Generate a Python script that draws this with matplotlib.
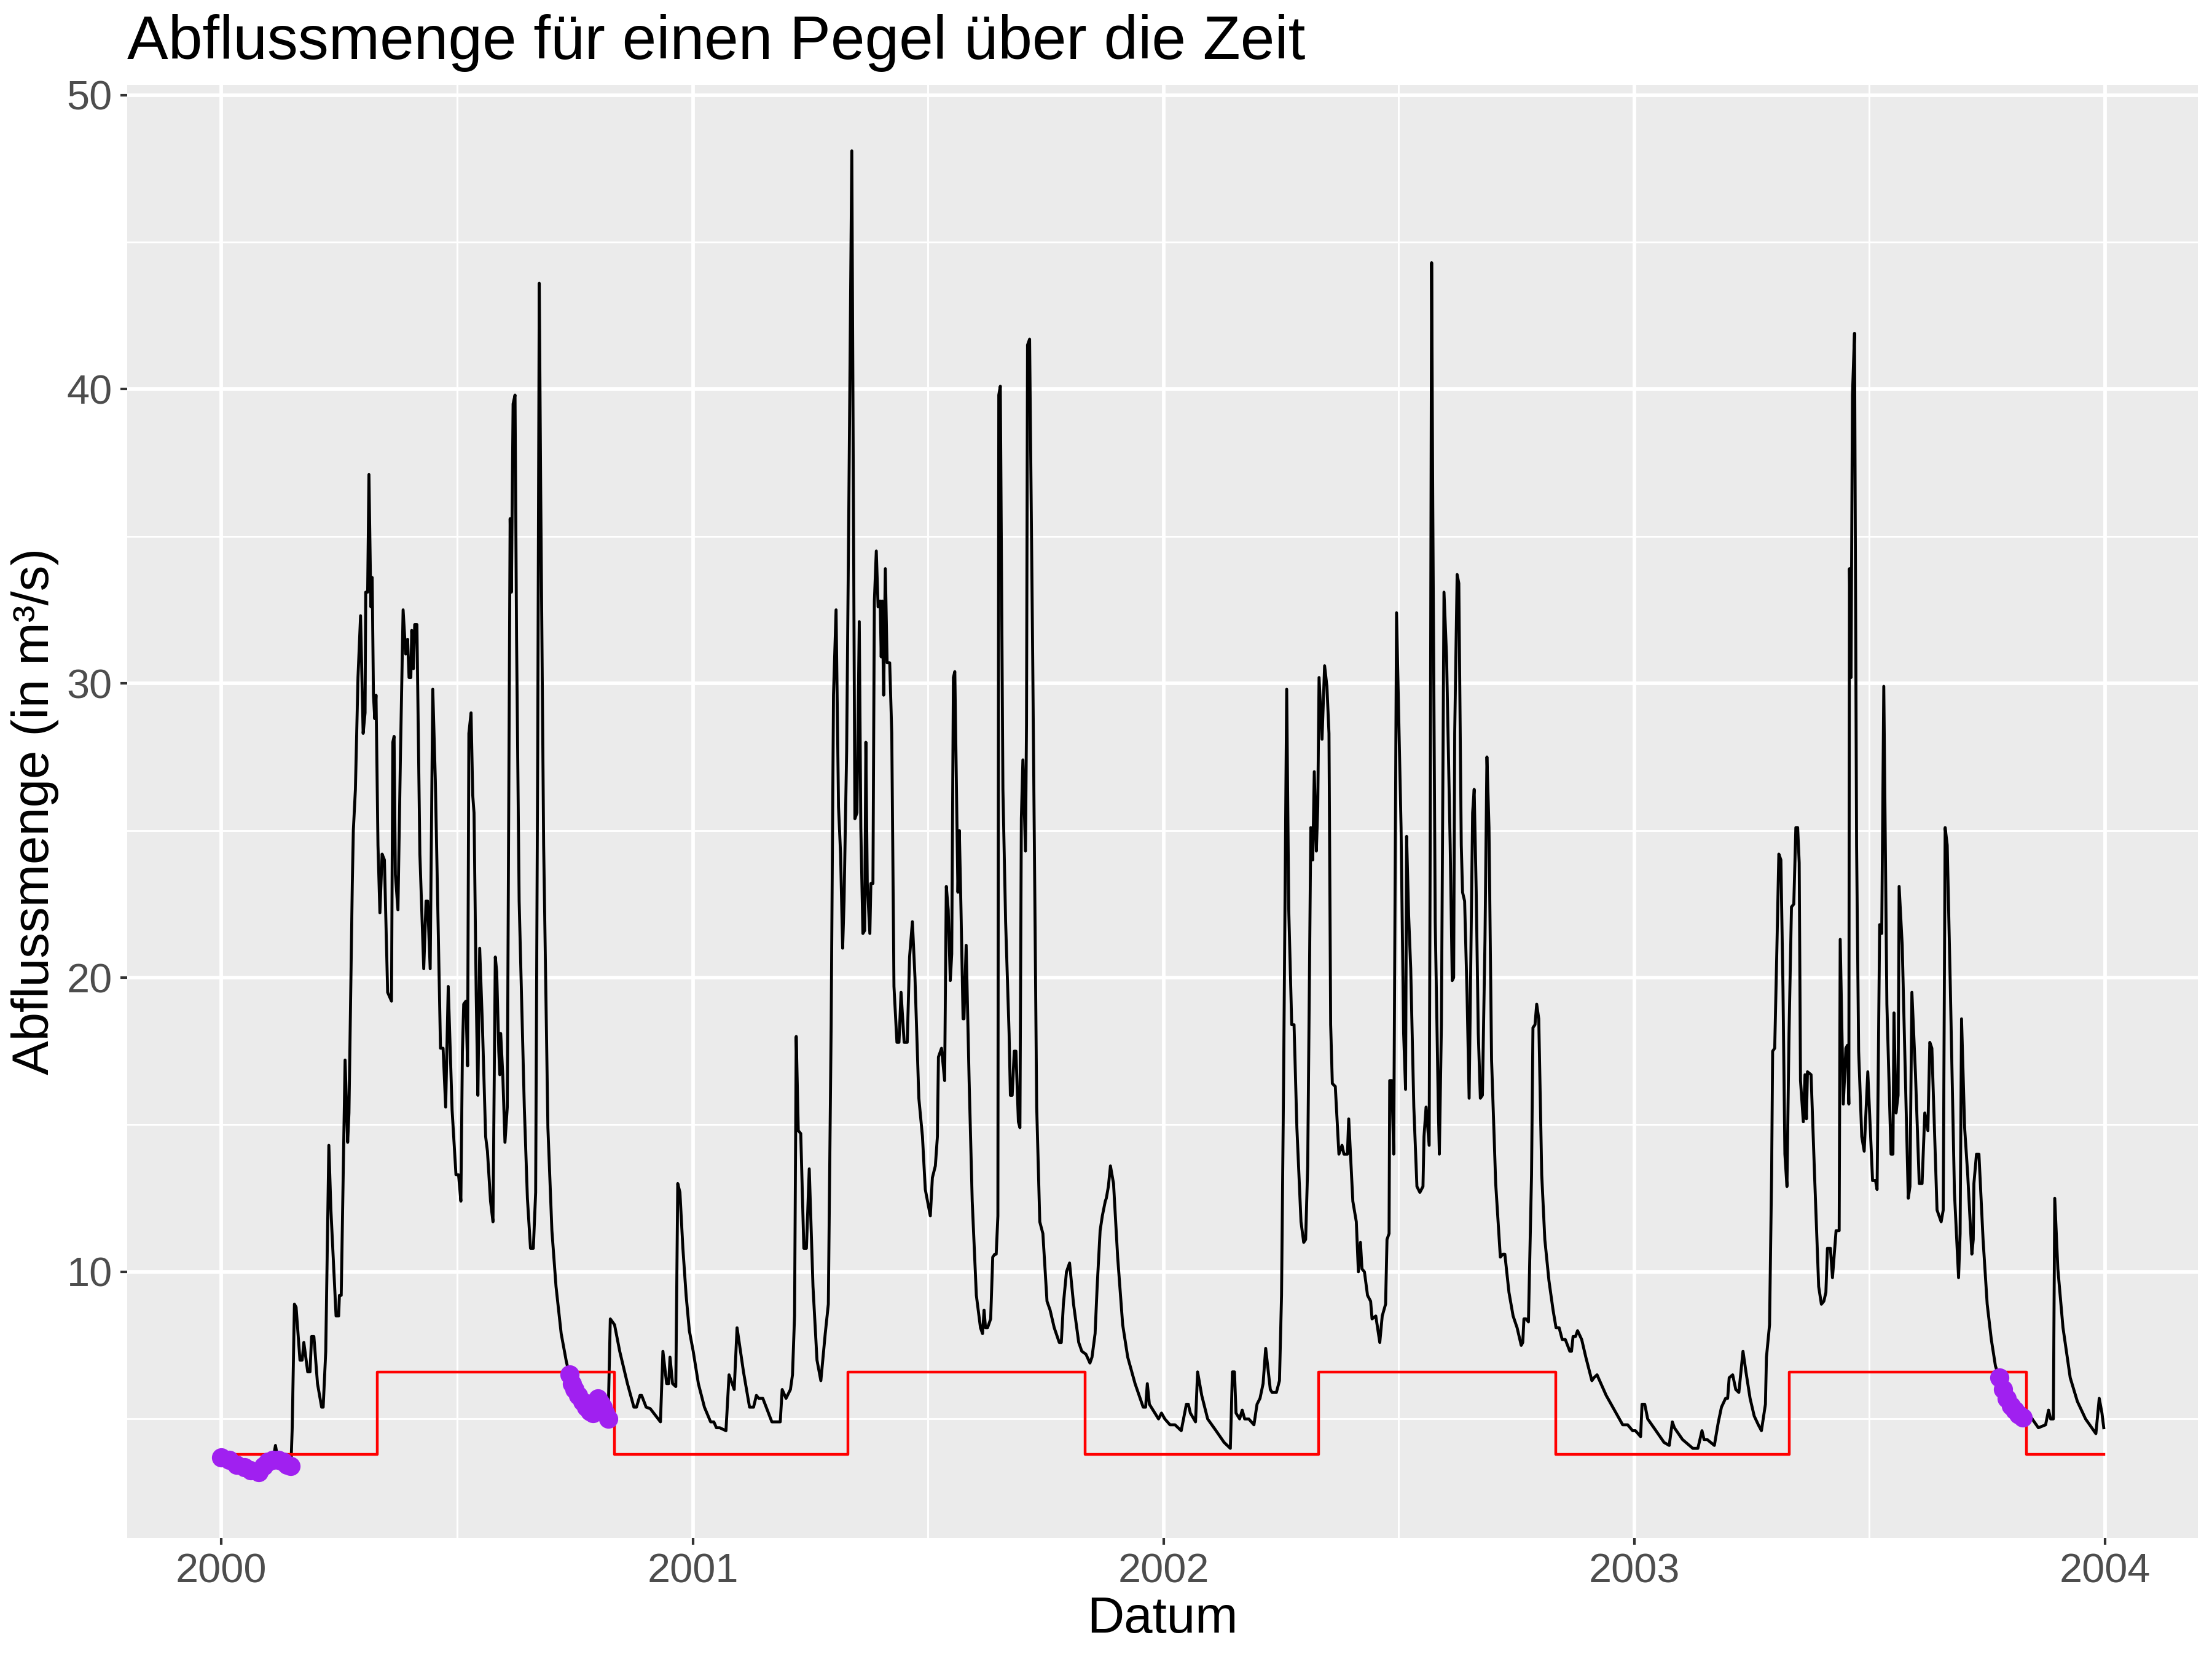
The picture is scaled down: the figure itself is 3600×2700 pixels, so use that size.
import numpy as np
import pandas as pd
import matplotlib
matplotlib.use("Agg")
import matplotlib.pyplot as plt
import matplotlib.dates as mdates

# Tage seit 2000-01-01 und Abfluss (m³/s)
tage_2000 = [0, 6, 12, 18, 23, 29, 33, 36, 40, 42, 44, 48, 51, 54, 55, 56.7, 58, 61, 62.7, 64,
             67, 68.8, 70, 71.8, 74.6, 77.8, 79, 81, 83.4, 85, 89, 91, 91.6, 93, 96, 98, 99,
             101.6, 102.4, 104, 106, 108, 110, 111.5, 112, 113.5, 114.5, 116, 117, 118, 119, 120,
             121.5, 123, 124.7, 126.5, 129, 132, 133, 134, 135, 137, 139, 141, 143, 144.5, 145.6,
             147, 147.7, 149, 150, 151.7, 154, 157, 158.8, 160, 162, 164, 166, 170, 172, 174, 176,
             179, 182, 184, 185.8, 187, 188, 189.7, 191, 192, 193.7, 195, 196, 197.7, 199, 200.4,
             202.5, 205, 206.4, 208.8, 210.7, 212.5, 213.6, 215.2, 216, 216.7, 218.3, 220, 221.8,
             224, 225, 226.3, 227.8, 229, 231, 235, 237.4, 239.8, 242, 243.8, 245.4, 246.6, 247.7,
             250, 253.3, 256.4, 259.6, 263.6, 267.6, 270, 272, 274, 277, 280, 283, 286, 288, 290,
             292, 294, 296, 298, 300, 301.7, 305, 309, 315, 320, 322, 324.7, 326, 329.5, 332.7,
             340.6, 342.5, 345.4, 347, 348, 350, 352.5, 354, 355.7, 358, 360.5, 363]
abfluss_2000 = [3.7, 3.6, 3.45, 3.35, 3.25, 3.2, 3.4, 3.55, 3.6, 4.1, 3.6, 3.55, 3.45, 3.4, 4.7, 8.9, 8.8, 7.0, 7.0, 7.6,
                6.6, 6.6, 7.8, 7.8, 6.2, 5.4, 5.4, 7.3, 14.3, 12.1, 8.5, 8.5, 9.2, 9.2, 17.2, 14.4, 15.4,
                23.2, 25.0, 26.4, 30.2, 32.3, 28.3, 29.0, 33.1, 33.1, 37.1, 32.6, 33.6, 29.6, 28.8, 29.6,
                24.5, 22.2, 24.2, 24.0, 19.5, 19.2, 28.0, 28.2, 23.5, 22.3, 27.7, 32.5, 31.0, 31.5, 30.2,
                30.2, 31.8, 30.5, 32.0, 32.0, 24.2, 20.3, 22.6, 22.6, 20.3, 29.8, 26.7, 17.6, 17.6, 15.6, 19.7,
                15.5, 13.3, 13.3, 12.4, 17.5, 19.1, 19.2, 17.0, 28.3, 29.0, 26.2, 25.6, 19.4, 16.0, 21.0,
                18.4, 14.6, 14.1, 12.4, 11.7, 20.7, 20.2, 17.5, 16.7, 18.1, 16.7, 14.4, 15.6,
                35.6, 33.1, 39.5, 39.8, 31.5, 22.6, 15.6, 12.5, 10.8, 10.8, 12.7, 27.7, 43.6, 36.6,
                24.5, 14.9, 11.4, 9.5, 7.9, 6.95, 6.5, 6.2, 6.0, 5.8, 5.6, 5.4, 5.25, 5.2, 5.6,
                5.7, 5.55, 5.4, 5.2, 5.0, 8.4, 8.2, 7.3, 6.2, 5.4, 5.4, 5.8, 5.8, 5.4, 5.35,
                4.9, 7.3, 6.2, 6.2, 7.1, 6.2, 6.1, 13.0, 12.7, 10.8, 9.2, 8.0]

tage_2001 = [366, 370, 374.7, 379.5, 382, 384, 386.6, 391.4, 393.8, 395.4, 397.8, 400, 405, 409.7, 412.8,
             415, 416.8, 420, 427, 433.5, 435, 438, 441.4, 443, 444.6, 445.9, 447.5, 449.4, 451.8, 453.8,
             456, 458.9, 462, 465, 468.4, 470.8, 473, 474.8, 476.8, 478.7, 480.3, 481.9, 483, 485, 486.7,
             489, 490.2, 491.4, 493, 494.8, 496, 497.6, 499, 499.9, 501, 503, 503.8, 505.4, 506.5, 508,
             509.4, 511, 511.8, 512.6, 513.7, 515, 516.4, 518.4, 520, 521.7, 524, 525.6, 527.2, 529.6,
             532, 533.8, 536, 538, 541, 543.8, 546, 548.6, 549.9, 551.5, 553.8, 555.4, 556.2, 558.6,
             561, 562.3, 563.8, 565.4, 566.5, 567.8, 568.9, 571.3, 572.4, 573.7, 575.3, 576, 577.7, 580,
             582.4, 585.6, 588.8, 590.4, 591.6, 592.7, 594.3, 596.7, 598.3, 599.9, 601, 602.3, 603, 604.2,
             606.2, 608.3, 611, 612, 613.4, 615, 616.3, 618.2, 619.4, 620.5, 621.7, 623.7, 624.5, 625.3,
             626.9, 629.3, 632.4, 634.8, 637.2, 640.4, 642.8, 646, 649.9, 651.5, 653.1, 655.5, 657.9, 661,
             665, 667.4, 670.6, 673.7, 675.3, 677.7, 679.3, 681.6, 683.3, 685.6, 686.4, 688, 689.6, 692,
             695.2, 699.1, 703, 708.7, 715, 716.9, 718.2, 719.8, 726.9, 729.2]
abfluss_2001 = [7.3, 6.2, 5.4, 4.9, 4.9, 4.7, 4.7, 4.6, 6.5, 6.3, 6.0, 8.1, 6.6, 5.4, 5.4,
                5.8, 5.7, 5.7, 4.9, 4.9, 6.0, 5.7, 6.0, 6.5, 8.5, 18.0, 14.8, 14.7, 10.8, 10.8,
                13.5, 9.5, 7.0, 6.3, 7.9, 8.9, 18.4, 29.6, 32.5, 25.8, 24.2, 21.0, 22.6, 27.7, 36.0,
                48.1, 36.6, 25.4, 25.6, 32.1, 25.1, 21.5, 21.6, 28.0, 23.2, 21.5, 23.2, 23.2, 32.8, 34.5,
                32.6, 32.8, 30.9, 32.8, 29.6, 33.9, 30.7, 30.7, 28.3, 19.7, 17.8, 17.8, 19.5, 17.8,
                17.8, 20.7, 21.9, 20.0, 15.9, 14.6, 12.8, 12.2, 11.9, 13.2, 13.6, 14.6, 17.3, 17.6,
                16.5, 23.1, 22.3, 19.9, 20.8, 30.2, 30.4, 22.9, 25.0, 22.3, 18.6, 18.6, 21.1, 16.5,
                12.4, 9.2, 8.1, 7.9, 8.7, 8.1, 8.1, 8.4, 10.5, 10.6, 10.6, 11.9, 39.8, 40.1,
                26.4, 21.9, 18.1, 16.0, 16.0, 17.5, 17.5, 15.1, 14.9, 25.4, 27.4, 24.3, 28.6, 41.5,
                41.7, 30.9, 15.6, 11.7, 11.3, 9.0, 8.7, 8.1, 7.6, 7.6, 8.9, 10.0, 10.3, 8.9,
                7.6, 7.3, 7.2, 6.9, 7.1, 7.9, 9.5, 11.4, 11.9, 12.4, 12.5, 12.9, 13.6, 13.0,
                10.5, 8.2, 7.1, 6.2, 5.4, 5.4, 6.2, 5.5, 5.0, 5.2]

tage_2002 = [731.8, 735.8, 739.7, 744.5, 748.5, 750, 751.6, 755.6, 757.2, 760.4, 765, 771.5, 777.8, 782.6,
             784.2, 785.8, 787, 789.8, 791.8, 793.7, 796.9, 800.9, 803.3, 805.6, 808, 810, 813.6, 815,
             818.3, 820.7, 822.3, 823.9, 826.3, 827.9, 830.2, 832, 834.2, 837.4, 839.5, 841, 842.6, 845,
             846.5, 847.7, 849.3, 850.4, 851.4, 853.7, 855.7, 857.5, 859.1, 860.4, 861.7, 864, 866.8,
             869.2, 870.7, 873.4, 874.4, 877.6, 880.3, 881.9, 883.5, 884.7, 886.6, 889, 891.4, 892.5,
             895.4, 898.5, 900.4, 903, 904.1, 905.7, 906.2, 907.8, 909.3, 911.5, 915, 917, 918.5, 919.3,
             920.9, 922.5, 924.9, 927.3, 929.6, 932, 932.8, 934.4, 936.8, 937.6, 938.7, 939.6, 941.5,
             943.9, 944.7, 946.3, 948.3, 950.3, 953.1, 954.7, 955.8, 956.6, 958.5, 959.8, 961.7, 962.7,
             964.3, 966.2, 967.8, 969.3, 970.5, 971.7, 973.3, 974.9, 976.5, 978.1, 980.1, 981.6, 983.2,
             985.2, 988.4, 992, 994, 995.5, 998.7, 1001.9, 1005, 1008.2, 1009.4, 1010.3, 1011.9, 1013.8,
             1016.2, 1017.3, 1018.9, 1020.2, 1021.8, 1024.1, 1026.5, 1029.7, 1032.9, 1035.2, 1037.6, 1040,
             1042.4, 1045.9, 1047.2, 1048.4, 1050.3, 1051.9, 1055.1, 1058.3, 1063, 1064.6, 1067, 1074.1,
             1080.5, 1086.9, 1090.8, 1094.6]
abfluss_2002 = [5.0, 4.8, 4.8, 4.6, 5.5, 5.5, 5.2, 4.9, 6.6, 5.8, 5.0, 4.6, 4.2, 4.0,
                6.6, 6.6, 5.2, 5.0, 5.3, 5.0, 5.0, 4.8, 5.5, 5.7, 6.2, 7.4, 6.0, 5.9,
                5.9, 6.3, 9.2, 16.5, 29.8, 22.3, 18.4, 18.4, 14.9, 11.7, 11.0, 11.1, 13.6, 25.1,
                24.0, 27.0, 24.3, 25.8, 30.2, 28.1, 30.6, 29.9, 28.3, 18.4, 16.4, 16.3, 14.0,
                14.3, 14.0, 14.0, 15.2, 12.4, 11.7, 10.0, 11.0, 10.1, 10.0, 9.2, 9.0, 8.4,
                8.5, 7.6, 8.5, 8.9, 11.1, 11.3, 16.5, 16.5, 14.0, 32.4, 25.1, 18.1, 16.2, 24.8,
                22.1, 20.3, 15.6, 12.9, 12.7, 12.9, 14.6, 15.6, 14.3, 24.5, 44.3, 36.0, 21.9,
                15.6, 14.0, 18.4, 33.1, 30.9, 24.5, 19.9, 20.0, 28.3, 33.7, 33.4, 24.5, 22.9,
                22.6, 19.4, 15.9, 21.3, 25.6, 26.4, 22.9, 18.1, 15.9, 16.0, 21.3, 27.5, 25.1,
                17.2, 13.0, 10.5, 10.6, 10.6, 9.3, 8.5, 8.1, 7.5, 7.6, 8.4, 8.4, 8.3,
                13.3, 18.3, 18.4, 19.1, 18.6, 13.3, 11.1, 9.7, 8.7, 8.1, 8.1, 7.7,
                7.7, 7.3, 7.3, 7.8, 7.8, 8.0, 7.7, 7.1, 6.3, 6.4, 6.5, 5.8,
                5.3, 4.8, 4.8, 4.6]

tage_2003 = [1096.8, 1100.8, 1101.9, 1104, 1106.3, 1112.7, 1119, 1123, 1125.4, 1127, 1133.3, 1141.3, 1145.2,
             1148.4, 1150, 1152.4, 1158, 1161.1, 1163.5, 1166.7, 1168.3, 1169.5, 1172.2, 1174.6, 1177,
             1180.2, 1182.5, 1185.7, 1188.9, 1192.1, 1194.5, 1197.6, 1198.4, 1200.8, 1202.4, 1203.2,
             1204.8, 1206.4, 1208, 1209.6, 1211.2, 1212.7, 1214.3, 1215.9, 1217.8, 1219.6, 1221.2,
             1222.6, 1223.8, 1224.8, 1227, 1228.3, 1229.4, 1230.2, 1233, 1235.7, 1238.9, 1241, 1242.9,
             1244.5, 1245.7, 1248, 1249.6, 1252.4, 1254.8, 1255.6, 1258, 1260, 1261.2, 1262.3, 1262.8,
             1264, 1265.1, 1266.7, 1268.3, 1269.9, 1272.3, 1274.2, 1277, 1280.7, 1283, 1284.2, 1286.2,
             1287.8, 1289.4, 1291.8, 1295, 1296.5, 1297.3, 1298.9, 1300.5, 1301.3, 1303.7, 1308.4,
             1309.7, 1311.2, 1314, 1316.9, 1319.1, 1321.2, 1323.6, 1325.1, 1326.7, 1330.7, 1333.9,
             1335.5, 1337, 1338.6, 1341, 1344.2, 1347.4, 1348.6, 1349.7, 1352.1, 1354.5, 1357.7,
             1358.8, 1359.3, 1361.3, 1363.2, 1366.4, 1369.6, 1372.8, 1376, 1379, 1382, 1385, 1388,
             1391, 1394, 1397, 1400, 1403, 1406.1, 1409.3, 1414.9, 1417.2, 1418.8, 1420.9, 1422,
             1424.4, 1428.4, 1434, 1439.5, 1445.9, 1453.9, 1456.5, 1458.6, 1460]
abfluss_2003 = [4.6, 4.4, 5.5, 5.5, 5.0, 4.6, 4.2, 4.1, 4.9, 4.7, 4.3, 4.0, 4.0,
                4.6, 4.3, 4.3, 4.1, 4.9, 5.4, 5.7, 5.7, 6.4, 6.5, 6.0, 5.9,
                7.3, 6.6, 5.7, 5.1, 4.8, 4.6, 5.5, 7.1, 8.2, 13.3, 17.5,
                17.6, 20.8, 24.2, 24.0, 19.7, 14.0, 12.9, 18.1, 22.4, 22.5, 25.1,
                25.1, 23.9, 16.5, 15.1, 16.7, 15.2, 16.8, 16.7, 13.3, 9.5, 8.9, 9.0,
                9.3, 10.8, 10.8, 9.8, 11.4, 11.4, 21.3, 15.7, 17.6, 17.7, 15.7, 33.9,
                30.2, 39.8, 41.9, 24.5, 17.5, 14.6, 14.1, 16.8, 13.1, 13.1, 12.8, 21.8,
                21.5, 29.9, 19.1, 14.0, 14.0, 18.8, 15.4, 16.0, 23.1, 21.1, 12.5,
                12.9, 19.5, 16.7, 13.0, 13.0, 15.4, 14.8, 17.8, 17.6, 12.1, 11.7,
                12.1, 25.1, 24.5, 19.7, 12.7, 9.8, 11.3, 18.6, 14.9, 13.3, 10.6,
                11.1, 13.0, 14.0, 14.0, 11.1, 8.9, 7.7, 6.8, 6.4, 6.0, 5.7, 5.45,
                5.3, 5.15, 5.05, 5.0, 5.1, 4.9, 4.7, 4.8, 5.3, 5.0, 5.0, 12.5,
                10.1, 8.1, 6.4, 5.6, 5.0, 4.5, 5.7, 5.2, 4.7]

# Schwellenwert (Sommer/Winter)
schwelle_datum = ["2000-01-01", "2000-05-01", "2000-11-01", "2001-05-01", "2001-11-01",
                  "2002-05-01", "2002-11-01", "2003-05-01", "2003-11-01", "2003-12-31"]
schwelle_wert = [3.8, 6.6, 3.8, 6.6, 3.8, 6.6, 3.8, 6.6, 3.8, 3.8]

start = pd.Timestamp("2000-01-01")
tage = np.array(tage_2000 + tage_2001 + tage_2002 + tage_2003)
abfluss = np.array(abfluss_2000 + abfluss_2001 + abfluss_2002 + abfluss_2003)
datum = start + pd.to_timedelta(tage, unit="D")

s_datum = pd.to_datetime(schwelle_datum)
s_wert = np.array(schwelle_wert)

# Niedrigwasser: Abfluss unter Schwellenwert
idx = np.searchsorted(s_datum.values, datum.values, side="right") - 1
unter = abfluss < s_wert[idx]

plt.rcParams["font.family"] = ["Liberation Sans", "DejaVu Sans"]

fig = plt.figure(figsize=(12, 9), dpi=300)
ax = fig.add_axes([207 / 3600, 1 - 2503 / 2700, 3370 / 3600, 2365 / 2700])
ax.set_facecolor("#EBEBEB")
for s in ax.spines.values():
    s.set_visible(False)

ax.plot(datum, abfluss, color="black", lw=1.15, zorder=3)
ax.plot(s_datum, s_wert, color="red", lw=1.07, drawstyle="steps-post", zorder=4)
ax.plot(datum[unter], abfluss[unter], "o", color="#A020F0", ms=7.5, mew=0, zorder=5)

# Achsen wie ggplot (5% Erweiterung)
x0, x1 = datum.min(), datum.max()
dx = (x1 - x0) * 0.05
ax.set_xlim(x0 - dx, x1 + dx)
ymin = min(abfluss.min(), s_wert.min())
ymax = max(abfluss.max(), s_wert.max())
dy = (ymax - ymin) * 0.05
ax.set_ylim(ymin - dy, ymax + dy)

ax.set_xticks(pd.to_datetime(["2000-01-01", "2001-01-01", "2002-01-01", "2003-01-01", "2004-01-01"]))
ax.xaxis.set_major_formatter(mdates.DateFormatter("%Y"))
ax.set_xticks(pd.to_datetime(["2000-07-02", "2001-07-02", "2002-07-02", "2003-07-02"]), minor=True)
ax.set_yticks([10, 20, 30, 40, 50])
ax.set_yticks([5, 15, 25, 35, 45], minor=True)

ax.grid(which="major", color="white", lw=1.4)
ax.grid(which="minor", color="white", lw=0.7)
ax.set_axisbelow(True)
ax.tick_params(which="major", length=11.5 / 300 * 72, width=1.0, color="#333333",
               labelsize=16, labelcolor="#4D4D4D", pad=3)
ax.tick_params(which="minor", length=0)

fig.text(207 / 3600, 1 - 96 / 2700, "Abflussmenge für einen Pegel über die Zeit",
         fontsize=24, va="baseline", ha="left")
fig.text(1892 / 3600, 1 - 2657 / 2700, "Datum", fontsize=20, va="baseline", ha="center")
fig.text(57 / 3600, 1 - 1320 / 2700, "Abflussmenge (in m³/s)", fontsize=20,
         va="center", ha="center", rotation=90)

fig.savefig("out.png", dpi=300)
